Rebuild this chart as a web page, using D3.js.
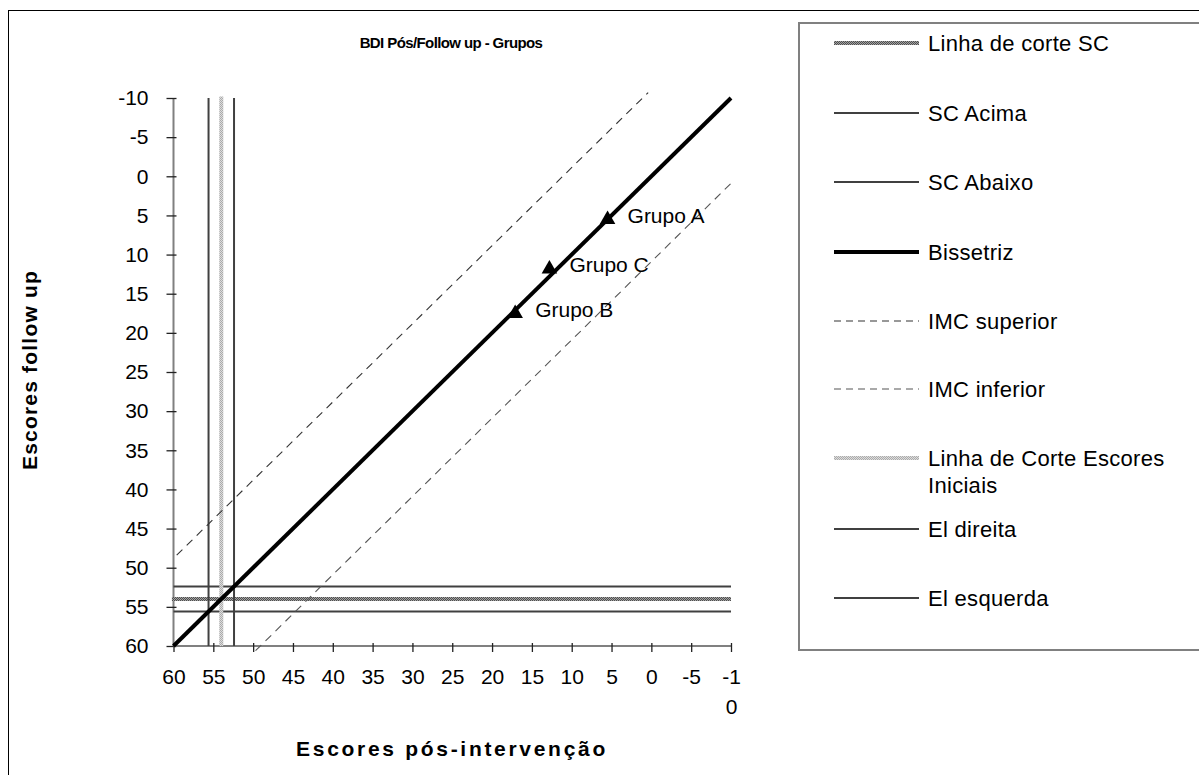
<!DOCTYPE html>
<html>
<head>
<meta charset="utf-8">
<script src="https://cdn.jsdelivr.net/npm/d3@7"></script>
<style>
  html, body { margin: 0; padding: 0; background: #fff; }
  svg { display: block; font-family: "Liberation Sans", Arial, sans-serif; }
</style>
</head>
<body>
<svg id="chart" width="1199" height="775"></svg>
<script>
// Axis ticks
const xTicks = [60, 55, 50, 45, 40, 35, 30, 25, 20, 15, 10, 5, 0, -5, -10];
const xTickLabels = ["60", "55", "50", "45", "40", "35", "30", "25", "20", "15", "10", "5", "0", "-5", "-1\n0"];
const yTicks = [-10, -5, 0, 5, 10, 15, 20, 25, 30, 35, 40, 45, 50, 55, 60];

// Group means (post-intervention, follow-up)
const groupNames = ["Grupo A", "Grupo C", "Grupo B"];
const groupPos = [5.5, 12.8, 17.1];
const groupFollow = [5.4, 11.7, 17.4];

// Clinical significance cut-offs
const scCut = 54, scAbove = 52.4, scBelow = 55.6;      // follow-up (horizontal)
const eiCut = 54, eiRight = 52.4, eiLeft = 55.6;       // initial scores (vertical)

// Reference lines as [x, y] pairs
const bisector = [[60, 60], [-10, -10]];
const imcUpper = [[59.6, 48.4], [0.4, -10.7]];
const imcLower = [[49.7, 60.6], [-10, 0.9]];

const legendNames = ["Linha de corte SC", "SC Acima", "SC Abaixo", "Bissetriz", "IMC superior",
  "IMC inferior", "Linha de Corte Escores\nIniciais", "El direita", "El esquerda"];

const svg = d3.select("#chart");

// textures for the cut-off lines
const defs = svg.append("defs");
function checker(id, c1, c2) {
  const p = defs.append("pattern").attr("id", id).attr("patternUnits", "userSpaceOnUse")
    .attr("width", 2).attr("height", 2);
  p.append("rect").attr("width", 2).attr("height", 2).attr("fill", c1);
  p.append("rect").attr("width", 1).attr("height", 1).attr("fill", c2);
  p.append("rect").attr("x", 1).attr("y", 1).attr("width", 1).attr("height", 1).attr("fill", c2);
}
checker("texSC", "#a4a4a4", "#4e4e4e");
checker("texEI", "#dcdcdc", "#ababab");

// outer frame
svg.append("rect").attr("x", 8.5).attr("y", 10.5).attr("width", 1300).attr("height", 900)
  .attr("fill", "none").attr("stroke", "#000").attr("stroke-width", 1);

const x = d3.scaleLinear().domain([60, -10]).range([173.5, 731]);
const y = d3.scaleLinear().domain([-10, 60]).range([98, 646]);

// title
svg.append("text").attr("x", 451).attr("y", 48).attr("text-anchor", "middle")
  .attr("font-weight", "bold").attr("font-size", 15).attr("letter-spacing", -0.6)
  .text("BDI Pós/Follow up - Grupos");

// y axis
const yAxis = svg.append("g").attr("transform", `translate(${x(60)},0)`)
  .call(d3.axisLeft(y).tickValues(yTicks).tickSize(7).tickPadding(18).tickFormat(d => String(d)));
yAxis.select(".domain").attr("stroke", "#808080").attr("stroke-width", 2).attr("d", `M0,${y(-10)}V${y(60)}`);
yAxis.selectAll(".tick line").attr("x1", 3).attr("x2", -7).attr("stroke", "#222").attr("stroke-width", 1.3);
yAxis.selectAll(".tick text").attr("font-size", 21).attr("fill", "#000")
  .attr("font-family", "'Liberation Sans', Arial, sans-serif");

// x axis
const xAxis = svg.append("g").attr("transform", `translate(0,${y(60)})`)
  .call(d3.axisBottom(x).tickValues(xTicks).tickSize(6).tickFormat(() => ""));
xAxis.select(".domain").attr("stroke", "#808080").attr("stroke-width", 2).attr("d", `M${x(60)},0H${x(-10)}`);
xAxis.selectAll(".tick line").attr("y1", -3).attr("y2", 6).attr("stroke", "#222").attr("stroke-width", 1.3);
xAxis.selectAll(".tick text").each(function (d, i) {
  const t = d3.select(this).attr("font-size", 21).attr("fill", "#000").attr("y", 0).attr("dy", null)
    .attr("font-family", "'Liberation Sans', Arial, sans-serif");
  xTickLabels[i].split("\n").forEach((ln, k) => {
    t.append("tspan").attr("x", 0).attr("y", 38 + k * 30).text(ln);
  });
});

// axis titles
svg.append("text").attr("x", 452).attr("y", 756).attr("text-anchor", "middle")
  .attr("font-weight", "bold").attr("font-size", 21).attr("letter-spacing", 2.7)
  .text("Escores pós-intervenção");
svg.append("text").attr("transform", "translate(37,370) rotate(-90)").attr("text-anchor", "middle")
  .attr("font-weight", "bold").attr("font-size", 21).attr("letter-spacing", 1.2)
  .text("Escores follow up");

const line = d3.line().x(d => x(d[0])).y(d => y(d[1]));
const plot = svg.append("g");

// horizontal cut-off lines
[scAbove, scBelow].forEach(v => {
  plot.append("path").attr("d", line([[60, v], [-10, v]])).attr("stroke", "#404040")
    .attr("stroke-width", 2).attr("fill", "none");
});
plot.append("path").attr("d", line([[60.2, scCut], [-10, scCut]])).attr("stroke", "url(#texSC)")
  .attr("stroke-width", 4).attr("fill", "none");

// vertical cut-off lines
[eiLeft, eiRight].forEach(v => {
  plot.append("path").attr("d", line([[v, -10], [v, 60]])).attr("stroke", "#404040")
    .attr("stroke-width", 2).attr("fill", "none");
});
plot.append("path").attr("d", line([[eiCut, -10.2], [eiCut, 60]])).attr("stroke", "url(#texEI)")
  .attr("stroke-width", 4).attr("fill", "none");

// reliable change bands
plot.append("path").attr("d", line(imcUpper)).attr("stroke", "#333").attr("stroke-width", 1.1)
  .attr("stroke-dasharray", "8,6").attr("fill", "none");
plot.append("path").attr("d", line(imcLower)).attr("stroke", "#555").attr("stroke-width", 1.1)
  .attr("stroke-dasharray", "8,6").attr("fill", "none");

// bisector
plot.append("path").attr("d", line(bisector)).attr("stroke", "#000").attr("stroke-width", 4)
  .attr("fill", "none");

// group markers and labels
const tri = d3.symbol().type(d3.symbolTriangle).size(105);
groupNames.forEach((name, i) => {
  const px = x(groupPos[i]), py = y(groupFollow[i]);
  plot.append("path").attr("d", tri()).attr("transform", `translate(${px},${py + 1})`).attr("fill", "#000");
  plot.append("text").attr("x", px + 20).attr("y", py + 4.5).attr("font-size", 21).text(name);
});

// legend
svg.append("rect").attr("x", 799).attr("y", 23).attr("width", 500).attr("height", 627)
  .attr("fill", "#fff").attr("stroke", "#808080").attr("stroke-width", 2);
const legendY = [43, 113, 182, 252, 321, 389, 458, 529, 598];
const legendStyle = [
  { stroke: "url(#texSC)", w: 4 },
  { stroke: "#404040", w: 2 },
  { stroke: "#404040", w: 2 },
  { stroke: "#000", w: 4 },
  { stroke: "#333", w: 1.1, dash: "7,5" },
  { stroke: "#555", w: 1.1, dash: "7,5" },
  { stroke: "url(#texEI)", w: 4 },
  { stroke: "#404040", w: 2 },
  { stroke: "#404040", w: 2 }
];
const lg = svg.append("g");
legendNames.forEach((name, i) => {
  const st = legendStyle[i];
  lg.append("line").attr("x1", 834).attr("x2", 919).attr("y1", legendY[i]).attr("y2", legendY[i])
    .attr("stroke", st.stroke).attr("stroke-width", st.w).attr("stroke-dasharray", st.dash || null);
  const t = lg.append("text").attr("font-size", 22).attr("letter-spacing", 0.3);
  name.split("\n").forEach((ln, k) => {
    t.append("tspan").attr("x", 928).attr("y", legendY[i] + 8 + k * 27).text(ln);
  });
});
</script>
</body>
</html>
